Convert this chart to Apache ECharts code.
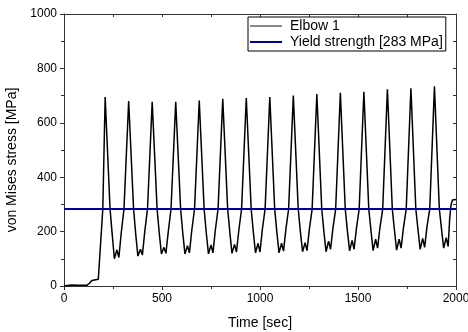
<!DOCTYPE html>
<html>
<head>
<meta charset="utf-8">
<script src="https://cdn.jsdelivr.net/npm/echarts@6/dist/echarts.min.js"></script>
<style>html,body{margin:0;padding:0;background:#fff}#c{width:468px;height:332px}</style>
</head>
<body>
<div id="c"></div>
<script>
// Elbow 1 stress history (time in sec, von Mises stress in MPa)
const elbowTime = [
  0,15,40,70,100,118,130,142,152,175,183,198,210,
  235,246,257,270,280,292,306,330,
  355,366,377,390,400,412,426,450,
  475,486,497,510,520,532,546,570,
  595,606,617,630,640,652,666,690,
  715,726,737,750,760,772,786,810,
  835,846,857,870,880,892,906,930,
  955,966,977,990,1000,1012,1026,1050,
  1075,1086,1097,1110,1120,1132,1146,1170,
  1195,1206,1217,1230,1240,1252,1266,1290,
  1315,1326,1337,1350,1360,1372,1386,1410,
  1435,1446,1457,1470,1480,1492,1506,1530,
  1555,1566,1577,1590,1600,1612,1626,1650,
  1675,1686,1697,1710,1720,1732,1746,1770,
  1795,1806,1817,1830,1840,1852,1866,1890,
  1915,1926,1937,1950,1960,1968,1975,1982,2000
];
const elbowStress = [
  0,2,4,3,3,3,10,20,25,25,32,283,695,
  283,190,100,133,105,195,283,680,
  283,190,110,135,114,200,283,677,
  283,195,118,142,120,200,283,677,
  283,195,118,148,122,205,283,682,
  283,195,118,151,122,205,283,688,
  283,198,120,153,125,205,283,691,
  283,198,122,157,125,208,283,695,
  283,198,122,157,128,208,283,700,
  283,200,126,159,130,210,283,706,
  283,200,126,165,135,212,283,710,
  283,202,129,168,135,212,283,714,
  283,205,130,172,139,215,283,723,
  283,205,132,172,139,215,283,727,
  283,208,135,175,142,218,283,734,
  283,210,139,178,145,250,300,316,318
];
const yieldStrength = 283;
const xRange = [0, 2000];
const yRange = [0, 1000];
const seriesNames = ['Elbow 1', 'Yield strength [283 MPa]'];

const elbowData = elbowTime.map((t, i) => [t, elbowStress[i]]);
const yieldData = [[xRange[0], yieldStrength], [xRange[1], yieldStrength]];

const font = 'Arial, "Liberation Sans", sans-serif';
const axisColor = '#333';
const plain = v => String(v);
const chart = echarts.init(document.getElementById('c'), null, {renderer: 'canvas'});
chart.setOption({
  animation: false,
  backgroundColor: '#fff',
  grid: {left: 64, right: 12, top: 14, bottom: 46, containLabel: false, outerBoundsMode: 'none'},
  legend: {
    show: true,
    orient: 'vertical',
    left: 248, top: 17,
    padding: [2, 3, 2, 2],
    itemGap: 2,
    itemWidth: 32, itemHeight: 2,
    icon: 'rect',
    borderColor: '#000', borderWidth: 1,
    textStyle: {fontFamily: font, fontSize: 14, color: '#000', padding: [0, 0, 0, 3]},
    data: [
      {name: seriesNames[0], icon: 'rect', itemStyle: {color: '#888'}},
      {name: seriesNames[1], icon: 'rect', itemStyle: {color: '#000080'}}
    ]
  },
  xAxis: [{
    type: 'value', min: xRange[0], max: xRange[1], interval: 500,
    name: 'Time [sec]', nameLocation: 'middle', nameGap: 30,
    nameTextStyle: {fontFamily: font, fontSize: 14, color: '#000'},
    axisLine: {show: true, onZero: false, lineStyle: {color: axisColor, width: 1}},
    axisTick: {show: true, inside: false, length: 4, lineStyle: {color: axisColor}},
    minorTick: {show: true, splitNumber: 2, length: 3, lineStyle: {color: axisColor}},
    axisLabel: {fontFamily: font, fontSize: 12, color: '#000', margin: 7, formatter: plain},
    splitLine: {show: false}
  }, {
    type: 'value', position: 'top', min: xRange[0], max: xRange[1], interval: 250,
    axisLine: {show: true, onZero: false, lineStyle: {color: axisColor, width: 1}},
    axisTick: {show: true, inside: true, length: 3, lineStyle: {color: axisColor}},
    axisLabel: {show: false}, splitLine: {show: false}
  }],
  yAxis: [{
    type: 'value', min: yRange[0], max: yRange[1], interval: 200,
    name: 'von Mises stress [MPa]', nameLocation: 'middle', nameGap: 45, nameRotate: 90,
    nameTextStyle: {fontFamily: font, fontSize: 14, color: '#000', padding: [0, 20, 0, 0]},
    axisLine: {show: true, onZero: false, lineStyle: {color: axisColor, width: 1}},
    axisTick: {show: true, inside: false, length: 4, lineStyle: {color: axisColor}},
    minorTick: {show: true, splitNumber: 2, length: 3, lineStyle: {color: axisColor}},
    axisLabel: {fontFamily: font, fontSize: 12, color: '#000', margin: 7, formatter: plain},
    splitLine: {show: false}
  }, {
    type: 'value', position: 'right', min: yRange[0], max: yRange[1], interval: 100,
    axisLine: {show: true, onZero: false, lineStyle: {color: axisColor, width: 1}},
    axisTick: {show: true, inside: true, length: 3, lineStyle: {color: axisColor}},
    axisLabel: {show: false}, splitLine: {show: false}
  }],
  series: [{
    name: seriesNames[0], type: 'line', data: elbowData,
    xAxisIndex: 0, yAxisIndex: 0,
    showSymbol: false, symbol: 'none',
    lineStyle: {color: '#000', width: 1.5},
    itemStyle: {color: '#000'},
    z: 3
  }, {
    name: seriesNames[1], type: 'line', data: yieldData,
    xAxisIndex: 0, yAxisIndex: 0,
    showSymbol: false, symbol: 'none',
    lineStyle: {color: '#000080', width: 2},
    itemStyle: {color: '#000080'},
    z: 4
  }]
});
</script>
</body>
</html>
